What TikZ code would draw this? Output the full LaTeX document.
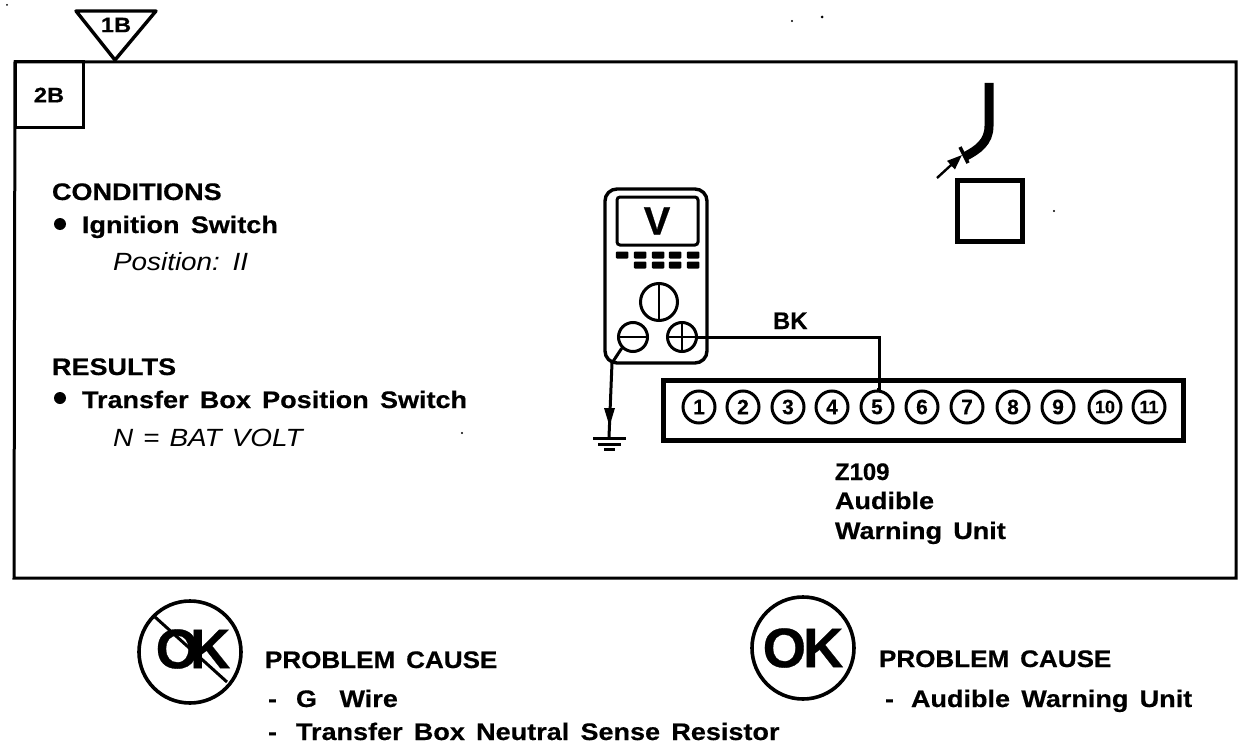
\documentclass[tikz,border=0pt]{standalone}
\usepackage{fontspec}
\setmainfont{Liberation Sans}
\newfontface\lbs{Liberation Sans Bold}[FakeStretch=1.13,WordSpace=1.5,FakeBold=0.5]
\newfontface\lbp{Liberation Sans Bold}[FakeStretch=1.09,WordSpace=1.5,FakeBold=0.5]
\newfontface\lbn{Liberation Sans Bold}[FakeBold=0.5]
\newfontface\its{Liberation Sans Italic}[FakeStretch=1.12,WordSpace=1.3]
\newcommand{\dashitem}[1]{\makebox[28bp][l]{-}#1}
\usetikzlibrary{arrows.meta}
\tikzset{
 x=1bp,y=-1bp,
 lbl/.style={anchor=base west,inner sep=0pt,outer sep=0pt,font=\lbs\fontsize{24}{24}\selectfont},
 lbh/.style={anchor=base west,inner sep=0pt,outer sep=0pt,font=\lbp\fontsize{24}{24}\selectfont},
 lbn/.style={anchor=base west,inner sep=0pt,outer sep=0pt,font=\lbn\fontsize{24}{24}\selectfont},
 ital/.style={anchor=base west,inner sep=0pt,outer sep=0pt,font=\its\fontsize{25}{25}\selectfont},
 tag/.style={inner sep=0pt,outer sep=0pt,font=\lbs\fontsize{21}{21}\selectfont},
 thin line/.style={line width=3bp,draw=black},
 pin/.style={circle,draw=black,line width=3bp,minimum size=32bp,inner sep=0pt,font=\lbn\fontsize{21}{21}\selectfont},
 pinw/.style={pin,font=\lbn\fontsize{18}{18}\selectfont},
 okc/.style={circle,draw=black,line width=3.6bp,minimum size=102bp,inner sep=0pt},
 oktxt/.style={inner sep=0pt,outer sep=0pt,font=\lbn\fontsize{56}{56}\selectfont},
 speck/.style={fill=black,draw=none},
 btn/.style={fill=black,draw=none,rounded corners=1bp,minimum width=12.5bp,minimum height=7bp,inner sep=0pt},
}
\begin{document}
\begin{tikzpicture}
\useasboundingbox (0,0) rectangle (1248,748);
\fill[white] (0,0) rectangle (1248,748);
% frame
\draw[line width=3bp] (15,62) -- (1236,62) -- (1236,578) -- (14,578) -- cycle;
\draw[line width=3bp] (15,62) rectangle (83,127);
\node[tag] (tag2) at (49,95) {2B};
\draw[line width=3.4bp,line join=round] (76,11) -- (156,11) -- (115,60) -- cycle;
\node[tag] (tag1) at (116,25) {1B};
% left text
\node[lbl] (cond) at (52,200) {CONDITIONS};
\fill (60,224) circle (6);
\node[lbl] (ign) at (82,233) {Ignition Switch};
\node[ital] (pos) at (113,270) {Position: II};
\node[lbl] (res) at (52,375) {RESULTS};
\fill (60,398) circle (6);
\node[lbl] (tbs) at (82,408) {Transfer Box Position Switch};
\node[ital] (nbat) at (113,446) {N = BAT VOLT};
% meter
\draw[line width=3.4bp,rounded corners=12bp] (605,189) rectangle (707,363);
\draw[line width=3bp,rounded corners=3bp] (617,197) rectangle (698,245);
\node[font=\lbn\fontsize{40}{40}\selectfont,inner sep=0pt] (vv) at (657,221) {V};
\foreach \x/\n in {622/a,640/b,658/c,675/d,693/e}
  \node[btn] (b1\n) at (\x,255) {};
\foreach \x/\n in {640/b,658/c,675/d,693/e}
  \node[btn] (b2\n) at (\x,265) {};
\node[circle,draw,line width=3bp,minimum size=37bp,inner sep=0pt] (dial) at (659,302) {};
\draw[line width=2.4bp] (dial.north) -- (dial.south);
\node[circle,draw,line width=3bp,minimum size=29bp,inner sep=0pt] (minus) at (633,337) {};
\draw[line width=2.8bp] (minus.west) -- (minus.east);
\node[circle,draw,line width=3bp,minimum size=29bp,inner sep=0pt] (plus) at (682,337) {};
\draw[line width=2.8bp] (plus.west) -- (plus.east);
\draw[line width=2.8bp] (plus.north) -- (plus.south);
% connector
\draw[line width=5bp] (663,380) rectangle (1183,440);
\foreach \x/\n in {699/1,743/2,788/3,832/4,877/5,922/6,967/7,1013/8,1058/9}
  \node[pin] (p\n) at (\x,407) {\n};
\foreach \x/\n in {1105/10,1149/11}
  \node[pinw] (p\n) at (\x,407) {\n};
% wires
\draw[thin line] (plus.east) -- (879,337) |- (p5.north);
\node[lbn] (bk) at (773,329) {BK};
\coordinate (gnd) at (609,437);
\draw[thin line] (minus.south west) -- (612,363) -- (gnd);
\fill (604,408) -- (615,408) -- (609.5,426) -- cycle;
\draw[line width=3bp] (593,438) -- (626,438);
\draw[line width=3bp] (598,444) -- (621,444);
\draw[line width=3bp] (604,449) -- (615,449);
% probe
\node[draw,line width=5bp,minimum width=65bp,minimum height=61bp,inner sep=0pt] (sq) at (989.5,210.5) {};
\draw[line width=9bp] (989,83) -- (989,126) .. controls (989,142) and (978,150) .. (964,157);
\draw[line width=3.5bp] (960,147) -- (968,163);
\coordinate (tipa) at (962,155);
\coordinate (tailb) at (937,178);
\draw[line width=2.4bp,-{Triangle[length=15bp,width=11bp]}] (tailb) -- (tipa);
% OK symbols
\node[okc] (nok) at (190,652) {};
\node[oktxt] (noktxt) at (193,649) {O\kern-9bp K};
\draw[line width=3bp] (155,617) -- (227,682);
\node[okc] (ok) at (803,648) {};
\node[oktxt] (oktx) at (803,648) {O\kern-3bp K};
% causes
\node[lbh] (pc1) at (265,668) {PROBLEM CAUSE};
\node[lbl] (g) at (268,707) {\dashitem{G\ \ Wire}};
\node[lbl] (t) at (268,740) {\dashitem{Transfer Box Neutral Sense Resistor}};
\node[lbh] (pc2) at (879,667) {PROBLEM CAUSE};
\node[lbl] (a) at (885,707) {\makebox[26bp][l]{-}Audible Warning Unit};
\node[lbn] (z) at (835,480) {Z109};
\node[lbl] (z2) at (835,509) {Audible};
\node[lbl] (z3) at (835,539) {Warning Unit};
% specks
\fill[speck] (792,21) circle (1.2);
\fill[speck] (822,17) circle (1.5);
\fill[speck] (1054,211) circle (1.2);
\fill[speck] (462,433) circle (1.2);
\fill[speck] (7,5) circle (1);
\end{tikzpicture}
\end{document}
